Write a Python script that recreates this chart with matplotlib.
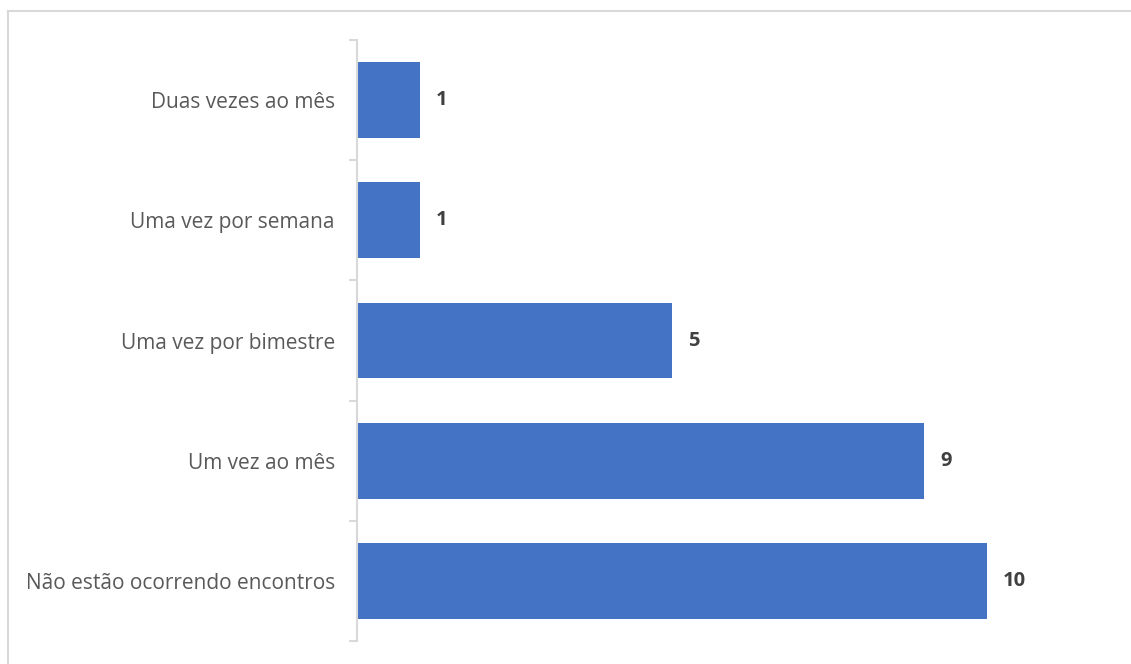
import matplotlib
matplotlib.use("Agg")
import matplotlib.pyplot as plt
from matplotlib.lines import Line2D

categories = ["Não estão ocorrendo encontros", "Um vez ao mês", "Uma vez por bimestre",
              "Uma vez por semana", "Duas vezes ao mês"]
values = [10, 9, 5, 1, 1]

W, H = 1131, 664
fig = plt.figure(figsize=(W / 100, H / 100), dpi=100)
plt.rcParams['font.family'] = ['Open Sans', 'DejaVu Sans']

ax = fig.add_axes([357 / W, (H - 641) / H, (1100 - 357) / W, (641 - 40) / H])
y = list(range(len(categories)))
ax.barh(y, values, height=0.63, color="#4472C4")
ax.set_xlim(0, 743 / 63)
ax.set_ylim(-0.5, len(categories) - 0.5)

for yi, v in zip(y, values):
    ax.annotate(str(v), (v, yi), xytext=(16 * 0.72, 0), textcoords="offset points",
                ha="left", va="center", fontsize=14.5, fontweight="bold", color="#404040")

ax.set_yticks(y)
ax.set_yticklabels(categories, fontsize=15, color="#595959")
ax.set_yticks([i - 0.5 for i in range(len(categories) + 1)], minor=True)
ax.tick_params(axis="y", which="major", length=0, pad=16)
ax.tick_params(axis="y", which="minor", length=6, width=1.5, color="#D9D9D9")
ax.set_xticks([])
for s in ["top", "right", "bottom"]:
    ax.spines[s].set_visible(False)
ax.spines["left"].set_color("#D9D9D9")
ax.spines["left"].set_linewidth(1.5)

# outer border (chart area frame, partially cropped)
fig.add_artist(Line2D([7.5 / W, 7.5 / W], [0, 1 - 10.5 / H], transform=fig.transFigure,
                      color="#D9D9D9", lw=1.5))
fig.add_artist(Line2D([7.5 / W, 1], [1 - 10.5 / H, 1 - 10.5 / H], transform=fig.transFigure,
                      color="#D9D9D9", lw=1.5))

fig.savefig("out.png", dpi=100)
